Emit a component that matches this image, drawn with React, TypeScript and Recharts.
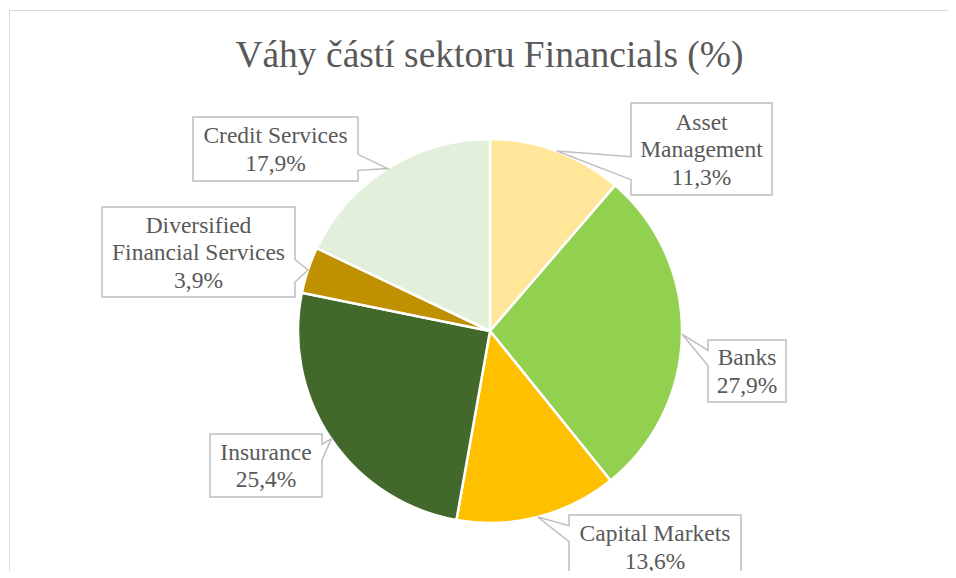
import React from 'react';
import { PieChart, Pie, Cell } from 'recharts';

// ---- data ----
const categories = [
  'Asset Management',
  'Banks',
  'Capital Markets',
  'Insurance',
  'Diversified Financial Services',
  'Credit Services',
];
const weights = [11.3, 27.9, 13.6, 25.4, 3.9, 17.9];
const title = 'Váhy částí sektoru Financials (%)';

// ---- styles ----
const colors = ['#FFE699', '#92D050', '#FFC000', '#43682B', '#BF9000', '#E2EFDA'];
// label box layout relative to pie centre: centre offset, size, word index after which to break
const labelLayout = [
  { dx: 211.5, dy: -182, w: 141, h: 92, breakAfter: 1 },
  { dx: 257, dy: 40, w: 78, h: 62, breakAfter: 0 },
  { dx: 165, dy: 216, w: 172, h: 64, breakAfter: 0 },
  { dx: -224, dy: 134.5, w: 112, h: 63, breakAfter: 0 },
  { dx: -291.5, dy: -79, w: 193, h: 90, breakAfter: 1 },
  { dx: -214.5, dy: -182, w: 165, h: 64, breakAfter: 0 },
];

const FONT = "'Liberation Serif', 'Times New Roman', 'DejaVu Serif', serif";
const TEXT = '#595959';
const W = 940;
const H = 560;
const CX = 480;
const CY = 320;
const R = 192;
const RAD = Math.PI / 180;

const data = categories.map((name, i) => ({ name, value: weights[i] }));

function calloutPath(l: number, t: number, w: number, h: number, tx: number, ty: number) {
  const r = l + w;
  const b = t + h;
  const hc = l + w / 2;
  const vc = t + h / 2;
  const dxPos = tx - hc;
  const dyPos = ty - vc;
  const adx = Math.abs(dxPos * h);
  const ady = Math.abs(dyPos * w);
  const x1 = l + (w * (dxPos > 0 ? 7 : 2)) / 12;
  const x2 = l + (w * (dxPos > 0 ? 10 : 5)) / 12;
  const y1 = t + (h * (dyPos > 0 ? 7 : 2)) / 12;
  const y2 = t + (h * (dyPos > 0 ? 10 : 5)) / 12;
  const horiz = adx > ady;
  const top = !horiz && dyPos < 0;
  const bottom = !horiz && dyPos >= 0;
  const left = horiz && dxPos < 0;
  const right = horiz && dxPos >= 0;
  const p: string[] = [];
  p.push(`M${l},${t}`);
  if (top) p.push(`L${x1},${t}`, `L${tx},${ty}`, `L${x2},${t}`);
  p.push(`L${r},${t}`);
  if (right) p.push(`L${r},${y1}`, `L${tx},${ty}`, `L${r},${y2}`);
  p.push(`L${r},${b}`);
  if (bottom) p.push(`L${x2},${b}`, `L${tx},${ty}`, `L${x1},${b}`);
  p.push(`L${l},${b}`);
  if (left) p.push(`L${l},${y2}`, `L${tx},${ty}`, `L${l},${y1}`);
  p.push('Z');
  return p.join(' ');
}

const renderLabel = (props: any) => {
  const { cx, cy, midAngle, outerRadius, index, name, value } = props;
  const lay = labelLayout[index];
  const tx = cx + outerRadius * Math.cos(-midAngle * RAD);
  const ty = cy + outerRadius * Math.sin(-midAngle * RAD);
  const bcx = cx + lay.dx;
  const bcy = cy + lay.dy;
  const l = bcx - lay.w / 2;
  const t = bcy - lay.h / 2;
  const words = String(name).split(' ');
  const lines: string[] = [];
  if (lay.breakAfter > 0) {
    lines.push(words.slice(0, lay.breakAfter).join(' '));
    lines.push(words.slice(lay.breakAfter).join(' '));
  } else {
    lines.push(String(name));
  }
  lines.push(Number(value).toFixed(1).replace('.', ',') + '%');
  const lh = 27.5;
  const firstY = bcy - ((lines.length - 1) * lh) / 2;
  return (
    <g key={`lbl-${index}`}>
      <path d={calloutPath(l, t, lay.w, lay.h, tx, ty)} fill="#FFFFFF" stroke="#BFBFBF" strokeWidth={1.5} />
      {lines.map((ln, k) => (
        <text
          key={k}
          x={bcx}
          y={firstY + k * lh}
          textAnchor="middle"
          dominantBaseline="central"
          style={{ fontFamily: FONT, fontSize: 23.5 }}
          fill={TEXT}
        >
          {ln}
        </text>
      ))}
    </g>
  );
};

export default function App() {
  return (
    <div
      style={{
        width: W,
        height: H,
        marginLeft: 1,
        marginTop: 2,
        borderTop: '1px solid #D9D9D9',
        borderLeft: '1px solid #D9D9D9',
        background: '#FFFFFF',
        fontFamily: FONT,
      }}
    >
      <PieChart width={W} height={H} margin={{ top: 0, right: 0, bottom: 0, left: 0 }}>
        <text x={479.5} y={56} textAnchor="middle" style={{ fontFamily: FONT, fontSize: 37.5 }} fill={TEXT}>
          {title}
        </text>
        <Pie
          data={data}
          dataKey="value"
          nameKey="name"
          cx={CX}
          cy={CY}
          outerRadius={R}
          startAngle={90}
          endAngle={-270}
          stroke="#FFFFFF"
          strokeWidth={2.5}
          label={renderLabel}
          labelLine={false}
          isAnimationActive={false}
        >
          {data.map((d, i) => (
            <Cell key={d.name} fill={colors[i]} />
          ))}
        </Pie>
      </PieChart>
    </div>
  );
}
